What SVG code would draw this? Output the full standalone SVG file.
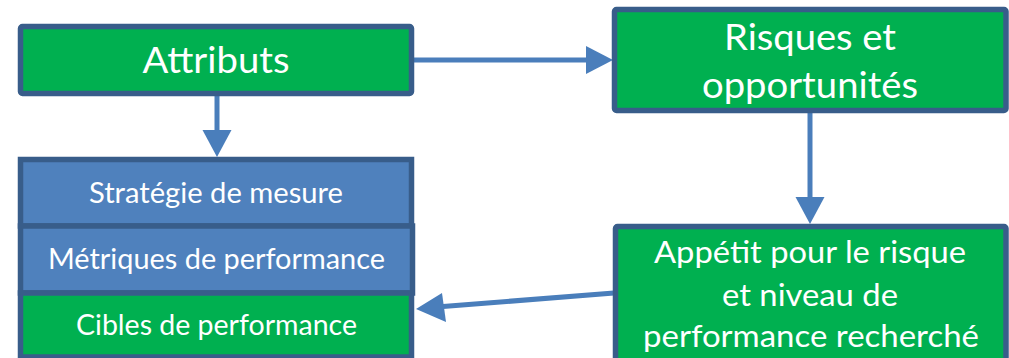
<svg xmlns="http://www.w3.org/2000/svg" width="1009" height="358" viewBox="0 0 1009 358">
  <defs>
    <style>
      .box { stroke: #385D8A; stroke-width: 5.5; }
      .green { fill: #00B050; }
      .blue { fill: #4F81BD; }
      .lbl { fill: #FFFFFF; font-family: Lato, "Liberation Sans", sans-serif; text-anchor: middle; }
      .big { font-size: 36px; }
      .mid { font-size: 31.5px; }
      .small { font-size: 28px; }
      .conn { stroke: #4A7EBB; stroke-width: 5; fill: none; }
      .head { fill: #4A7EBB; }
    </style>
  </defs>

  <rect width="1009" height="358" fill="#FFFFFF"/>

  <!-- Connectors -->
  <g id="connectors">
    <!-- Attributs -> Risques et opportunités -->
    <line class="conn" x1="412" y1="60" x2="588" y2="60"/>
    <polygon class="head" points="613,60 586,46 586,74"/>
    <!-- Attributs -> measurement stack -->
    <line class="conn" x1="217" y1="95" x2="217" y2="132"/>
    <polygon class="head" points="217,157 202.5,130 231.5,130"/>
    <!-- Risques et opportunités -> Appétit -->
    <line class="conn" x1="810" y1="112" x2="810" y2="199"/>
    <polygon class="head" points="810,224 795.5,197 824.5,197"/>
    <!-- Appétit -> Cibles de performance -->
    <line class="conn" x1="614" y1="293" x2="443" y2="306.5"/>
    <polygon class="head" points="416,309 442,293 446,322"/>
  </g>

  <g id="attributs">
    <rect class="box green" x="20.5" y="26.5" width="391" height="67" rx="2"/>
    <text class="lbl big" x="216" y="73" textLength="147" lengthAdjust="spacingAndGlyphs">Attributs</text>
  </g>

  <g id="risques">
    <rect class="box green" x="614.5" y="9.5" width="391.5" height="101" rx="2"/>
    <text class="lbl big" x="810" y="50" textLength="172" lengthAdjust="spacingAndGlyphs">Risques et</text>
    <text class="lbl big" x="810" y="98" textLength="216" lengthAdjust="spacingAndGlyphs">opportunités</text>
  </g>

  <g id="strategie">
    <rect class="box blue" x="20.5" y="159.5" width="391" height="66.5"/>
    <text class="lbl small" x="216" y="203" textLength="254" lengthAdjust="spacingAndGlyphs">Stratégie de mesure</text>
  </g>

  <g id="metriques">
    <rect class="box blue" x="20.5" y="226" width="392" height="67"/>
    <text class="lbl small" x="216.5" y="269" textLength="337" lengthAdjust="spacingAndGlyphs">Métriques de performance</text>
  </g>

  <g id="cibles">
    <rect class="box green" x="20.5" y="293" width="391" height="64"/>
    <text class="lbl small" x="216.5" y="335" textLength="281" lengthAdjust="spacingAndGlyphs">Cibles de performance</text>
  </g>

  <g id="appetit">
    <rect class="box green" x="615.5" y="226.5" width="390.5" height="140" rx="2"/>
    <text class="lbl mid" x="810" y="263" textLength="312" lengthAdjust="spacingAndGlyphs">Appétit pour le risque</text>
    <text class="lbl mid" x="810" y="306" textLength="176" lengthAdjust="spacingAndGlyphs">et niveau de</text>
    <text class="lbl mid" x="811" y="347" textLength="336" lengthAdjust="spacingAndGlyphs">performance recherché</text>
  </g>
</svg>
